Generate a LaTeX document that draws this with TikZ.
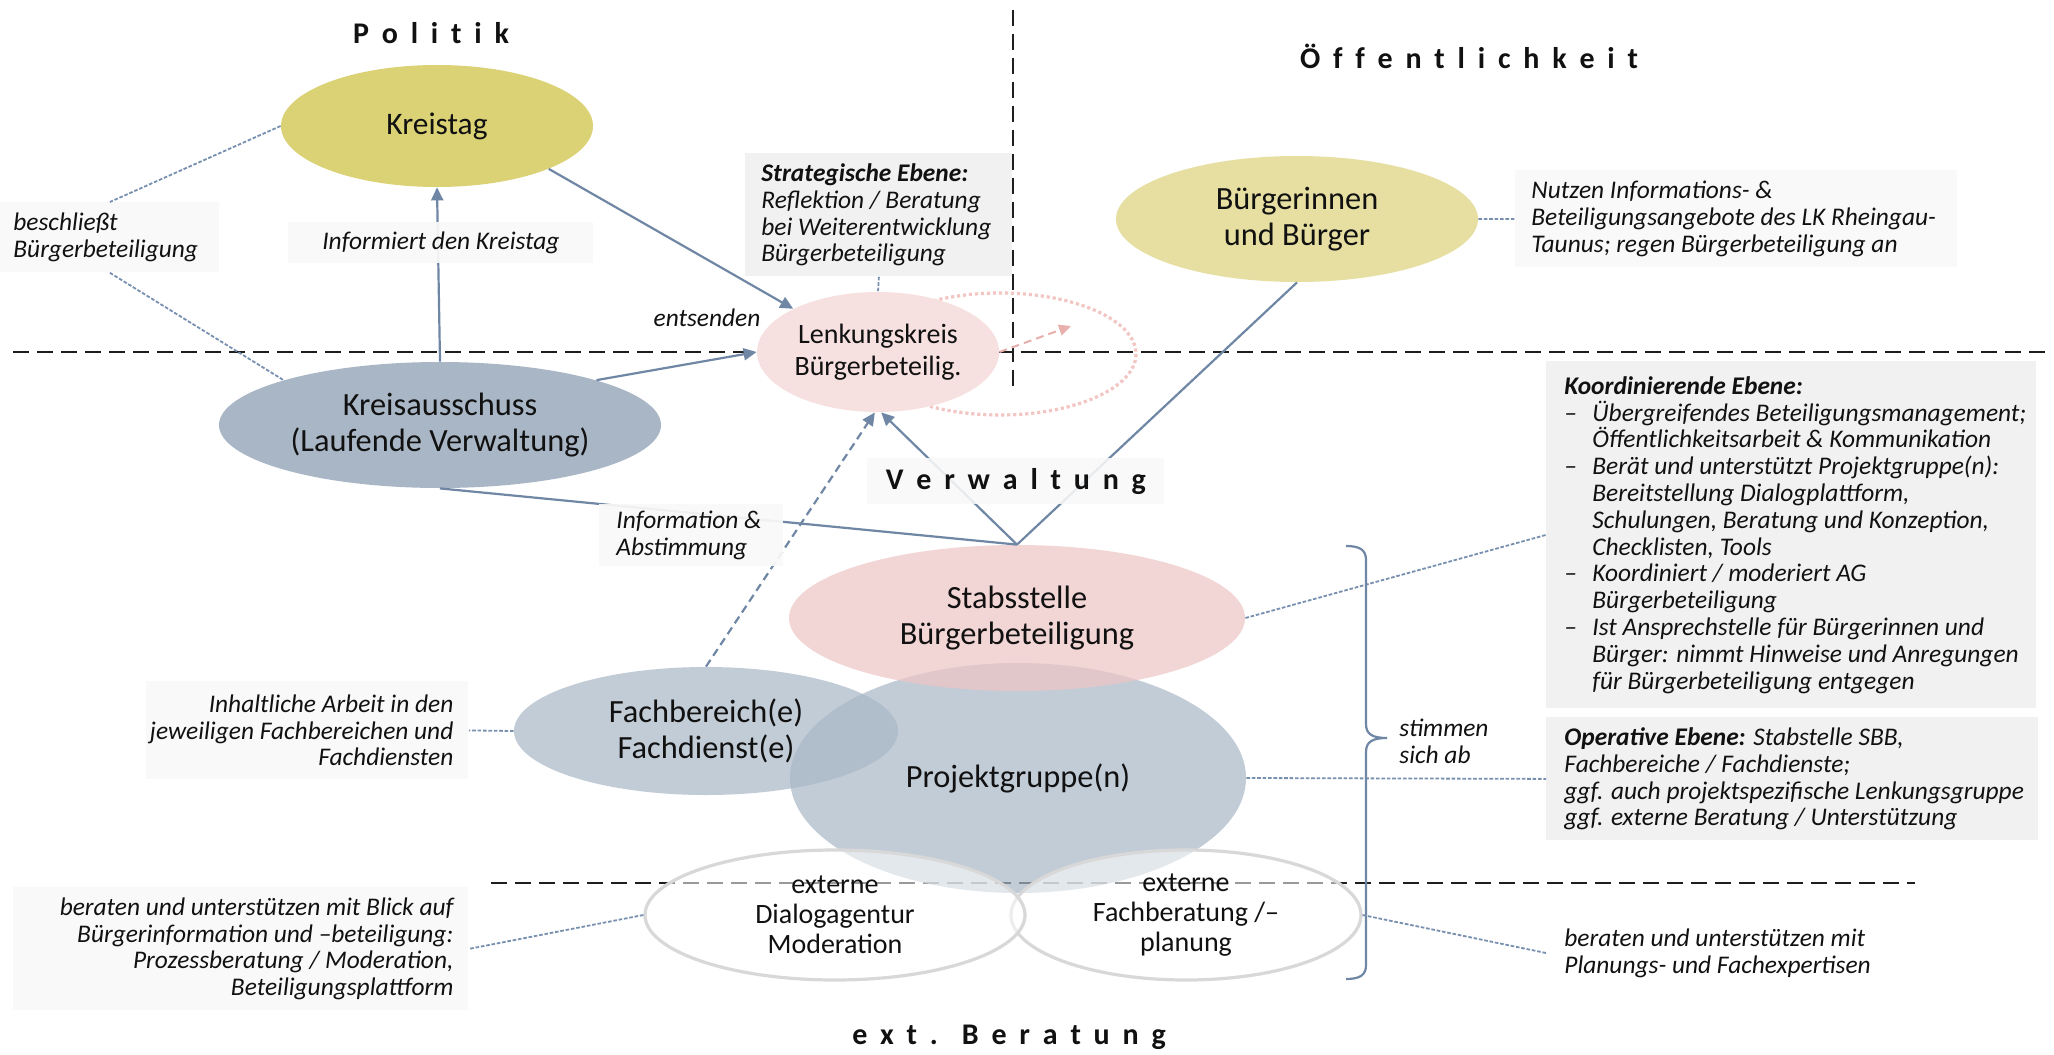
\documentclass[tikz,border=0pt]{standalone}
\usepackage{fontspec}
\setmainfont{Carlito}
\usetikzlibrary{shapes.geometric,arrows.meta}
\definecolor{ckreistag}{HTML}{DBD276}
\definecolor{cbuerger}{HTML}{E6DFA1}
\definecolor{clenk}{HTML}{F6E1E0}
\definecolor{causs}{HTML}{A9B6C5}
\definecolor{cstabs}{HTML}{EDC5C5}
\definecolor{cproj}{HTML}{A9B7C7}
\definecolor{cline}{HTML}{6F87A5}
\definecolor{cdot}{HTML}{7890AF}
\definecolor{cpink}{HTML}{F2C6C3}
\definecolor{cpinkarr}{HTML}{E8B0AC}
\definecolor{cboxg}{HTML}{F1F1F1}
\definecolor{cboxl}{HTML}{F9F9F9}
\definecolor{cext}{HTML}{D8D8D8}
\definecolor{cdiv}{HTML}{1E1E1E}
\definecolor{ctext}{HTML}{111111}
\newcommand{\mynote}{\fontsize{12.7}{13.4}\selectfont\itshape}
\newcommand{\myhdr}{\fontsize{15}{18}\selectfont\bfseries\spaceskip=6.4pt\relax}
\newcommand{\dashitem}{\makebox[14pt][l]{–}}
\newcommand{\indentitem}{\hspace*{14pt}}
\begin{document}
\begin{tikzpicture}[x=0.5pt,y=-0.5pt,
  ell/.style={ellipse, inner sep=0pt, align=center, text=ctext, font=\fontsize{16.2}{18}\selectfont},
  conn/.style={draw=cline, line width=1.1pt},
  arr/.style={conn, -{Triangle[length=6.5pt,width=6pt]}},
  dashedarr/.style={arr, dash pattern=on 4pt off 2.5pt},
  dotconn/.style={draw=cdot, line width=0.9pt, dash pattern=on 1.8pt off 0.9pt},
  divider/.style={draw=cdiv, line width=1.1pt, dash pattern=on 8pt off 4pt},
  bx/.style={anchor=north west, inner sep=0pt, draw=none},
  note/.style={font=\mynote, text=ctext, inner sep=0pt},
  hdr/.style={font=\myhdr, text=ctext, inner sep=0pt},
  extell/.style={ell, draw=cext, line width=1.6pt, fill=white, fill opacity=0.55, text opacity=1, font=\fontsize{14}{15}\selectfont},
  pinkarrow/.style={draw=cpinkarr, line width=1pt, dash pattern=on 4pt off 2.5pt, -{Triangle[length=6pt,width=5.5pt]}},
]
\useasboundingbox (0,0) rectangle (2054,1054);
\fill[white] (0,0) rectangle (2054,1054);

% dividers
\draw[divider] (13,352) -- (2050,352);
\draw[divider] (1013,10) -- (1013,392);
\draw[divider] (491,883) -- (1915,883);

% dotted pink ellipse
\draw[draw=cpink, line width=1.6pt, dash pattern=on 1.6pt off 1.4pt] (1000,354) ellipse [x radius=136, y radius=61];

% ellipses
\node[ell, fill=ckreistag, minimum width=156pt, minimum height=61pt, font=\fontsize{15.7}{18}\selectfont] (kreistag) at (437,126) {Kreistag};
\node[ell, fill=cbuerger, minimum width=181pt, minimum height=63pt] (buerger) at (1297,219) {Bürgerinnen\\und Bürger};
\node[ell, fill=clenk, minimum width=121pt, minimum height=60pt, font=\fontsize{14}{16}\selectfont] (lenk) at (878,352) {Lenkungskreis\\Bürgerbeteilig.};
\node[ell, fill=causs, minimum width=221pt, minimum height=63pt] (kreisaus) at (440,425) {Kreisausschuss\\(Laufende Verwaltung)};
\node[ell, fill=cproj, fill opacity=0.7, text opacity=1, minimum width=228pt, minimum height=115pt] (projekt) at (1018,778) {Projektgruppe(n)};
\node[ell, fill=cproj, fill opacity=0.7, text opacity=1, minimum width=192pt, minimum height=64pt] (fach) at (706,731) {Fachbereich(e)\\Fachdienst(e)};
\node[ell, fill=cstabs, fill opacity=0.72, text opacity=1, minimum width=228pt, minimum height=73pt] (stabs) at (1017,618) {Stabsstelle\\Bürgerbeteiligung};
\node[extell, minimum width=175pt, minimum height=65pt] (fachber) at (1186,915) {externe\\Fachberatung /–\\planung};
\node[extell, minimum width=190pt, minimum height=65pt] (dialog) at (835,915) {externe\\Dialogagentur\\Moderation};

% boxes (shapes)
\node[bx, fill=cboxl, minimum width=109.5pt, minimum height=35pt] (bxbeschl) at (0,202) {};
\node[bx, fill=cboxg, minimum width=133.5pt, minimum height=61.5pt] (bxstrat) at (745,153) {};
\node[bx, fill=cboxl, minimum width=221pt, minimum height=48.5pt] (bxnutzen) at (1515,170) {};
\node[bx, fill=cboxg, minimum width=245pt, minimum height=173.5pt] (bxkoord) at (1546,361) {};
\node[bx, fill=cboxg, minimum width=246pt, minimum height=61.5pt] (bxoper) at (1546,717) {};
\node[bx, fill=cboxl, minimum width=161pt, minimum height=49pt] (bxinhalt) at (146,681) {};
\node[bx, fill=cboxl, minimum width=227.5pt, minimum height=61.5pt] (bxberl) at (13,887) {};
\coordinate (pinktip) at (1071,326);

% connectors
\draw[dotconn] (kreistag.west) -- (bxbeschl.north);
\draw[dotconn] (bxbeschl.south) -- (kreisaus.164);
\draw[arr] (kreisaus.north) -- (kreistag.south);
\draw[arr] (kreistag.-21) -- (lenk.153);
\draw[arr] (kreisaus.16) -- (lenk.west);
\draw[conn] (kreisaus.south) -- (stabs.north);
\draw[arr] (stabs.north) -- (lenk.-87);
\draw[conn] (stabs.north) -- (buerger.south);
\draw[dashedarr] (fach.north) -- (lenk.-93);
\draw[dotconn] (bxstrat.south) -- (lenk.north);
\draw[dotconn] (buerger.east) -- (bxnutzen.west);
\draw[dotconn] (stabs.east) -- (bxkoord.west);
\draw[dotconn] (projekt.east) -- (bxoper.west);
\draw[dotconn] (fach.west) -- (bxinhalt.east);
\draw[dotconn] (dialog.west) -- (bxberl.east);
\draw[pinkarrow] (lenk.east) -- (pinktip);

% boxes over lines
\node[bx, fill=cboxl, fill opacity=0.92, text opacity=1, minimum width=152.5pt, minimum height=20.5pt, font=\mynote, text=ctext] (bxinfo) at (288,222) {Informiert den Kreistag};
\node[bx, fill=cboxl, fill opacity=0.92, minimum width=92pt, minimum height=31pt] (bxabst) at (599,504) {};
\node[bx, fill=cboxl, fill opacity=0.88, minimum width=148.5pt, minimum height=23pt] (bxverw) at (867,458) {};

% brace
\draw[draw=cline, line width=1.1pt] (1346,546) .. controls (1360,546) and (1366,550) .. (1366,560) -- (1366,724) .. controls (1366,734) and (1372,738) .. (1387,738) .. controls (1372,738) and (1366,742) .. (1366,752) -- (1366,965) .. controls (1366,975) and (1360,979) .. (1346,979);

% texts
\node[hdr] (hpolitik) at (431,33) {P o l i t i k};
\node[hdr] (hoeff) at (1469,56) {Ö f f e n t l i c h k e i t};
\node[hdr] (hverw) at (bxverw.center) {V e r w a l t u n g};
\node[hdr] (hext) at (1009,1037) {e x t .\hspace{12pt}B e r a t u n g};

\node[note, anchor=west, align=left] (tbeschl) at ([xshift=6.5pt]bxbeschl.west) {beschließt\\Bürgerbeteiligung};
\node[note, anchor=west, align=left] (tstrat) at ([xshift=8pt]bxstrat.west) {\textbf{Strategische Ebene:}\\Reflektion / Beratung\\bei Weiterentwicklung\\Bürgerbeteiligung};
\node[note, anchor=west, align=left] (tnutzen) at ([xshift=8pt]bxnutzen.west) {Nutzen Informations- \&\\Beteiligungsangebote des LK Rheingau-\\Taunus; regen Bürgerbeteiligung an};
\node[note, anchor=west, align=left] (tkoord) at ([xshift=9pt]bxkoord.west) {\textbf{Koordinierende Ebene:}\\
\dashitem Übergreifendes Beteiligungsmanagement;\\
\indentitem Öffentlichkeitsarbeit \& Kommunikation\\
\dashitem Berät und unterstützt Projektgruppe(n):\\
\indentitem Bereitstellung Dialogplattform,\\
\indentitem Schulungen, Beratung und Konzeption,\\
\indentitem Checklisten, Tools\\
\dashitem Koordiniert / moderiert AG\\
\indentitem Bürgerbeteiligung\\
\dashitem Ist Ansprechstelle für Bürgerinnen und\\
\indentitem Bürger: nimmt Hinweise und Anregungen\\
\indentitem für Bürgerbeteiligung entgegen};
\node[note, anchor=west, align=left] (toper) at ([xshift=9pt]bxoper.west) {\textbf{Operative Ebene:} Stabstelle SBB,\\Fachbereiche / Fachdienste;\\ggf. auch projektspezifische Lenkungsgruppe\\ggf. externe Beratung / Unterstützung};
\node[note, anchor=east, align=right] (tinhalt) at ([xshift=-7.5pt]bxinhalt.east) {Inhaltliche Arbeit in den\\jeweiligen Fachbereichen und\\Fachdiensten};
\node[note, anchor=east, align=right] (tberl) at ([xshift=-7.5pt]bxberl.east) {beraten und unterstützen mit Blick auf\\Bürgerinformation und –beteiligung:\\Prozessberatung / Moderation,\\Beteiligungsplattform};
\node[note, anchor=west, align=left] (tabst) at ([xshift=8.5pt]bxabst.west) {Information \&\\Abstimmung};
\node[note, anchor=west, align=left, inner xsep=9pt] (tberr) at (1546,953) {beraten und unterstützen mit\\Planungs- und Fachexpertisen};
\draw[dotconn] (fachber.east) -- (tberr.west);
\node[note] (tents) at (707,318) {entsenden};
\node[note, anchor=west, align=left] (tstimm) at (1399,741) {stimmen\\sich ab};
\end{tikzpicture}
\end{document}
